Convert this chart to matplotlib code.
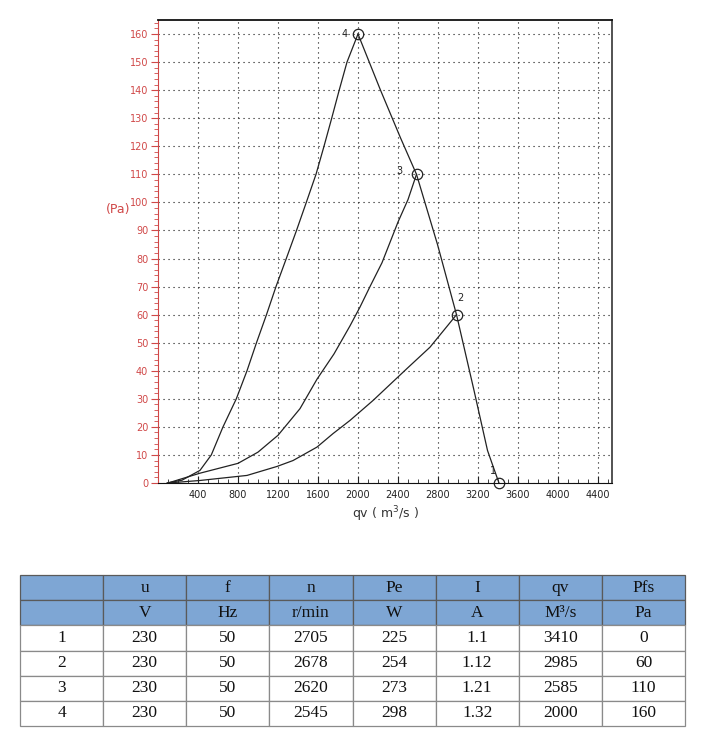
""" Fan performance chart: pressure vs flow with three system curves,
plus the operating point table underneath.
"""
import matplotlib.pyplot as plt
from matplotlib.ticker import MultipleLocator

# operating points (from the table)
pt_no = ['1', '2', '3', '4']
pt_u = ['230', '230', '230', '230']
pt_f = ['50', '50', '50', '50']
pt_n = ['2705', '2678', '2620', '2545']
pt_pe = ['225', '254', '273', '298']
pt_i = ['1.1', '1.12', '1.21', '1.32']
pt_qv = [3410, 2985, 2585, 2000]
pt_pfs = [0, 60, 110, 160]

head1 = ['', 'u', 'f', 'n', 'Pe', 'I', 'qv', 'Pfs']
head2 = ['', 'V', 'Hz', 'r/min', 'W', 'A', 'M\u00b3/s', 'Pa']

# fan curve
fan_q = [2000, 2225, 2425, 2585, 2795, 2985, 3160, 3295, 3360, 3410]
fan_p = [160, 140, 123, 110, 85, 60, 33, 11.6, 5, 0]

# system curves through points 4, 3, 2
sys4_q = [90, 240, 420, 533, 650, 783, 890, 985, 1085, 1180, 1283, 1385, 1483, 1580, 1660, 1737, 1812, 1890, 2000]
sys4_p = [0, 1, 4.5, 10, 20, 30, 40, 50, 60, 70, 80, 90, 100, 110, 120, 130, 140, 150, 160]
sys3_q = [100, 420, 800, 1000, 1200, 1420, 1590, 1760, 1920, 2020, 2120, 2240, 2400, 2500, 2585]
sys3_p = [0, 3.5, 7, 11, 17, 26.5, 37, 46, 56, 62.7, 70, 78.5, 93, 101, 110]
sys2_q = [100, 420, 890, 1190, 1350, 1590, 1750, 1920, 2150, 2490, 2720, 2940, 2985]
sys2_p = [0, 0.9, 2.7, 5.9, 8, 12.8, 17.6, 22.3, 29.4, 40.8, 48.4, 58, 60]

red = '#d04848'

fig = plt.figure(figsize=(7.1, 7.51), dpi=100)
ax = fig.add_axes([158/710, 1-483/751, (612-158)/710, (483-20)/751])

ax.plot(sys4_q, sys4_p, color='#222222', lw=0.9)
ax.plot(sys3_q, sys3_p, color='#222222', lw=0.9)
ax.plot(sys2_q, sys2_p, color='#222222', lw=0.9)
ax.plot(fan_q, fan_p, color='#222222', lw=0.9)
ax.plot(pt_qv, pt_pfs, 'o', ms=7.5, mfc='none', mec='#222222', mew=0.9, clip_on=False)

offs = [(-6, 12), (4, 17), (-17, 3), (-13, 0)]
for lab, q, p, o in zip(pt_no, pt_qv, pt_pfs, offs):
    ax.annotate(lab, (q, p), xytext=o, textcoords='offset pixels',
                ha='center', va='center', fontsize=7, color='#222222')

ax.set_xlim(0, 4540)
ax.set_ylim(0, 165)
ax.xaxis.set_minor_locator(MultipleLocator(100))
ax.yaxis.set_major_locator(MultipleLocator(10))
ax.yaxis.set_minor_locator(MultipleLocator(2))
ax.set_xticks(range(400, 4401, 400))
ax.grid(True, which='major', color='#111111', ls=(0, (1, 3.5)), lw=0.8)

ax.tick_params(axis='x', which='both', direction='in', colors='#222222', labelsize=7, pad=5)
ax.tick_params(axis='x', which='major', length=5)
ax.tick_params(axis='x', which='minor', length=3)
ax.tick_params(axis='y', which='both', direction='out', color=red, labelcolor=red,
               labelsize=7, pad=2)
ax.tick_params(axis='y', which='major', length=5)
ax.tick_params(axis='y', which='minor', length=3)

ax.spines['left'].set_color(red)
ax.spines['bottom'].set_color('#111111')
ax.spines['top'].set_color('#111111')
ax.spines['right'].set_color('#444444')
ax.spines['top'].set_linewidth(1.3)
ax.spines['right'].set_linewidth(1.3)

ax.set_xlabel('qv ( m$^3$/s )', fontsize=9, color='#333333', labelpad=3)
ax.text(-0.088, 0.59, '(Pa)', transform=ax.transAxes, color=red, fontsize=9,
        ha='center', va='center')

# table
tax = fig.add_axes([20/710, 1-726/751, (685-20)/710, (726-575)/751])
tax.axis('off')
rows = [head1, head2]
for r in zip(pt_no, pt_u, pt_f, pt_n, pt_pe, pt_i, pt_qv, pt_pfs):
    rows.append([str(v) for v in r])
head_col = '#7ea6d4'
colours = [[head_col]*8]*2 + [['white']*8]*4
tb = tax.table(cellText=rows, cellColours=colours, cellLoc='center', bbox=[0, 0, 1, 1])
tb.auto_set_font_size(False)
for (i, j), cell in tb.get_celld().items():
    cell.set_edgecolor('#5a5a5a' if i < 2 else '#8a8a8a')
    cell.set_linewidth(0.9)
    cell.get_text().set_fontsize(12.5)
    cell.get_text().set_fontfamily('Liberation Serif')
    cell.get_text().set_color('#111111')

fig.savefig('out.png', dpi=100)
